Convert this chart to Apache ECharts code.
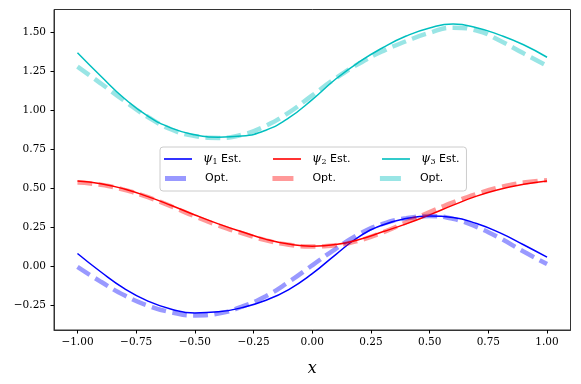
<!DOCTYPE html>
<html>
<head>
<meta charset="utf-8">
<script src="https://cdn.jsdelivr.net/npm/echarts@6/dist/echarts.min.js"></script>
<style>
  html, body { margin: 0; padding: 0; background: #fff; }
  #main { width: 581px; height: 384px; }
</style>
</head>
<body>
<div id="main"></div>
<script>
var xs = [-1.0, -0.9, -0.8, -0.7, -0.6, -0.5, -0.4, -0.3, -0.2, -0.1, 0.0,
          0.1, 0.2, 0.3, 0.4, 0.5, 0.6, 0.7, 0.8, 0.9, 1.0];

var est1 = [0.080, -0.039, -0.146, -0.226, -0.278, -0.302, -0.295, -0.268, -0.222, -0.152, -0.050,
            0.073, 0.188, 0.263, 0.304, 0.320, 0.311, 0.272, 0.212, 0.136, 0.056];
var opt1 = [-0.006, -0.102, -0.189, -0.255, -0.298, -0.318, -0.306, -0.262, -0.196, -0.103, 0.004,
            0.110, 0.205, 0.270, 0.306, 0.320, 0.302, 0.250, 0.178, 0.092, 0.012];

var est2 = [0.546, 0.528, 0.494, 0.445, 0.388, 0.327, 0.270, 0.219, 0.172, 0.140, 0.127,
            0.137, 0.170, 0.219, 0.270, 0.328, 0.390, 0.448, 0.492, 0.524, 0.546];
var opt2 = [0.535, 0.521, 0.488, 0.441, 0.382, 0.318, 0.260, 0.210, 0.166, 0.136, 0.125,
            0.133, 0.163, 0.215, 0.280, 0.346, 0.408, 0.462, 0.506, 0.535, 0.550];

var est3 = [1.369, 1.218, 1.075, 0.962, 0.885, 0.842, 0.827, 0.834, 0.870, 0.950, 1.068,
            1.200, 1.310, 1.401, 1.476, 1.528, 1.553, 1.530, 1.482, 1.420, 1.340];
var opt3 = [1.280, 1.171, 1.060, 0.956, 0.876, 0.834, 0.822, 0.842, 0.898, 0.985, 1.095,
            1.205, 1.300, 1.379, 1.443, 1.497, 1.530, 1.512, 1.446, 1.365, 1.285];

var xTicks = [-1.0, -0.75, -0.5, -0.25, 0.0, 0.25, 0.5, 0.75, 1.0];
var yTicks = [-0.25, 0.0, 0.25, 0.5, 0.75, 1.0, 1.25, 1.5];

var colors = { est1: "#0000ff", est2: "#ff0000", est3: "#00bfbf" };

var legendText = {
  est1: "{p|ψ}{s|1} Est.",
  est2: "{p|ψ}{s|2} Est.",
  est3: "{p|ψ}{s|3} Est.",
  opt1: "Opt.",
  opt2: "Opt.",
  opt3: "Opt."
};

// matplotlib style 5% margins
var allY = est1.concat(opt1, est2, opt2, est3, opt3);
var yLo = Math.min.apply(null, allY), yHi = Math.max.apply(null, allY);
var yPad = 0.05 * (yHi - yLo);
var xPad = 0.05 * (xs[xs.length - 1] - xs[0]);

function pairs(ys) {
  return xs.map(function (x, i) { return [x, ys[i]]; });
}

function fmt(v) {
  return (v < 0 ? "\u2212" : "") + Math.abs(v).toFixed(2);
}

function estSeries(name, ys) {
  return {
    name: name, type: "line", data: pairs(ys), smooth: true,
    symbol: "none", z: 2,
    lineStyle: { color: colors[name], width: 1.5 },
    itemStyle: { color: colors[name] }
  };
}

function optSeries(name, ys, c) {
  return {
    name: name, type: "line", data: pairs(ys), smooth: true,
    symbol: "none", z: 3,
    lineStyle: { color: c, width: 4.5, opacity: 0.4, type: [14.8, 6.4] },
    itemStyle: { color: c, opacity: 0.4 }
  };
}

var chartDom = document.getElementById("main");
var myChart = echarts.init(chartDom, null, { renderer: "canvas" });

var tickFont = { fontFamily: "DejaVu Serif", fontSize: 10.5, color: "#000" };

var option = {
  backgroundColor: "#fff",
  animation: false,
  grid: {
    left: 54, right: 10.5, top: 9.5, bottom: 54,
    show: true, borderColor: "#333", borderWidth: 1, backgroundColor: "transparent"
  },
  legend: [
    {
      data: ["est1", "est2", "est3"],
      selectedMode: false,
      orient: "horizontal",
      left: 160, top: 147,
      padding: [6, 7, 25, 4],
      icon: "path://M0,0H28V1.6H0Z",
      itemWidth: 28, itemHeight: 14, itemGap: 31.5,
      backgroundColor: "rgba(255,255,255,0.8)",
      borderColor: "#cccccc", borderWidth: 1, borderRadius: 3,
      formatter: function (n) { return legendText[n]; },
      textStyle: {
        fontFamily: "DejaVu Sans", fontSize: 11, color: "#000",
        padding: [0, 0, 0, 6],
        rich: {
          p: { fontFamily: "DejaVu Serif", fontStyle: "italic", fontSize: 12, lineHeight: 14, color: "#000" },
          s: { fontFamily: "DejaVu Serif", fontSize: 8, lineHeight: 8, verticalAlign: "bottom", color: "#000" }
        }
      }
    },
    {
      data: ["opt1", "opt2", "opt3"],
      selectedMode: false,
      orient: "horizontal",
      left: 165, top: 173,
      padding: 0,
      icon: "rect",
      itemWidth: 21, itemHeight: 5, itemGap: 44,
      itemStyle: { opacity: 0.4 },
      formatter: function (n) { return legendText[n]; },
      textStyle: {
        fontFamily: "DejaVu Sans", fontSize: 11, color: "#000",
        padding: [0, 0, 0, 14], width: 24
      }
    }
  ],
  xAxis: {
    type: "value",
    min: xs[0] - xPad, max: xs[xs.length - 1] + xPad,
    name: "x", nameLocation: "middle", nameGap: 31,
    nameTextStyle: { fontFamily: "DejaVu Serif", fontStyle: "italic", fontSize: 16, color: "#000" },
    axisLine: { show: true, onZero: false, lineStyle: { color: "#333", width: 1 } },
    axisTick: { show: true, inside: false, length: 3.5, customValues: xTicks, lineStyle: { color: "#000", width: 1 } },
    axisLabel: { show: true, margin: 7, customValues: xTicks, formatter: fmt, fontFamily: tickFont.fontFamily, fontSize: tickFont.fontSize, color: "#000" },
    splitLine: { show: false }
  },
  yAxis: {
    type: "value",
    min: yLo - yPad, max: yHi + yPad,
    axisLine: { show: true, onZero: false, lineStyle: { color: "#333", width: 1 } },
    axisTick: { show: true, inside: false, length: 3.5, customValues: yTicks, lineStyle: { color: "#000", width: 1 } },
    axisLabel: { show: true, margin: 8, customValues: yTicks, formatter: fmt, fontFamily: tickFont.fontFamily, fontSize: tickFont.fontSize, color: "#000" },
    splitLine: { show: false }
  },
  series: [
    estSeries("est1", est1), optSeries("opt1", opt1, colors.est1),
    estSeries("est2", est2), optSeries("opt2", opt2, colors.est2),
    estSeries("est3", est3), optSeries("opt3", opt3, colors.est3)
  ]
};

option && myChart.setOption(option);
</script>
</body>
</html>
